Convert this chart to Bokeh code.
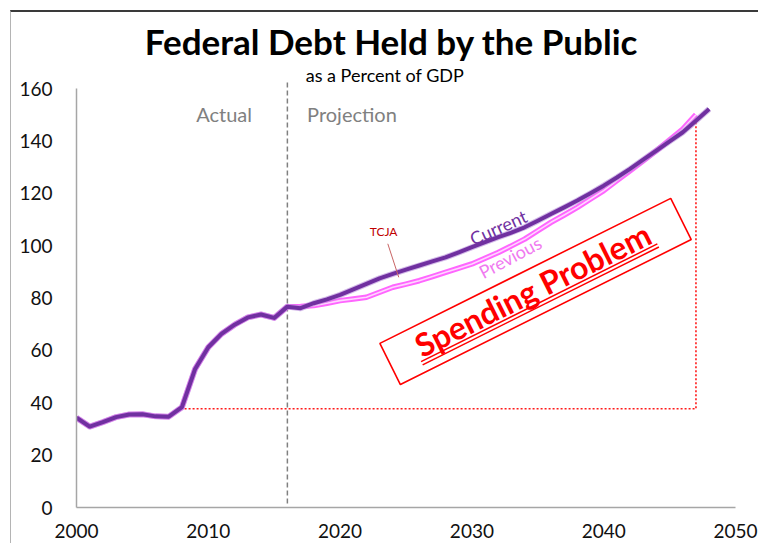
import math
from bokeh.plotting import figure
from bokeh.models import Range1d, FixedTicker, Label
from bokeh.embed import file_html
from bokeh.resources import INLINE

# ---------------- data ----------------
hist_years = list(range(2000, 2017))
hist_values = [34.3, 30.9, 32.6, 34.5, 35.5, 35.6, 34.8, 34.7, 38.3, 52.9,
               61.2, 66.3, 69.8, 72.6, 73.7, 72.4, 76.7]

current_years = list(range(2016, 2049))
current_values = [76.7, 76.1, 78.0, 79.5, 81.2, 83.3, 85.4, 87.5, 89.2, 90.8,
                  92.4, 94.0, 95.5, 97.4, 99.4, 101.3, 103.2, 105.0, 107.0, 109.5,
                  112.1, 114.6, 117.2, 120.0, 122.9, 126.0, 129.3, 132.8, 136.3, 139.8,
                  143.3, 147.7, 152.2]

previous_years = list(range(2016, 2048))
previous_values = [76.7, 76.8, 77.1, 78.0, 79.0, 79.6, 80.3, 82.2, 84.1, 85.3,
                   86.6, 88.2, 89.8, 91.4, 93.0, 95.2, 97.4, 99.9, 102.5, 105.7,
                   108.9, 111.7, 114.6, 117.8, 121.0, 124.8, 128.6, 132.4, 136.3, 140.4,
                   144.5, 150.0]

x_ticks = [2000, 2010, 2020, 2030, 2040, 2050]
y_ticks = [0, 20, 40, 60, 80, 100, 120, 140, 160]

projection_start = 2016
base_year, base_value = 2008.2, 37.7      # start of the "spending problem" gap
end_year, end_value = 2047, 148.4

title_text = "Federal Debt Held by the Public"
subtitle_text = "as a Percent of GDP"

# ---------------- layout ----------------
X0, X1 = 2000, 2050
Y0, Y_AXIS_TOP = 0, 160
FRAME_W = 659
PX_PER_UNIT_Y = 419 / 160
MIN_TOP = 4
FRAME_H = 495 - MIN_TOP
Y1 = FRAME_H / PX_PER_UNIT_Y            # frame extends above 160 to hold the titles

p = figure(width=748, height=533, output_backend="svg", toolbar_location=None,
           x_range=Range1d(X0, X1), y_range=Range1d(Y0, Y1),
           min_border_left=65, min_border_right=24, min_border_top=MIN_TOP,
           min_border_bottom=38)
p.outline_line_color = None
p.xgrid.visible = False
p.ygrid.visible = False
p.background_fill_color = "white"
p.border_fill_color = "white"
p.styles = {"border-top": "2px solid #3a3a3a", "border-left": "1px solid #b4b4b4",
            "margin-top": "10px", "margin-left": "10px"}

FONT = "Lato"
for ax, ticks, standoff in ((p.xaxis[0], x_ticks, 10), (p.yaxis[0], y_ticks, 18)):
    ax.ticker = FixedTicker(ticks=ticks)
    ax.axis_line_color = "#a6a6a6"
    ax.axis_line_width = 1.5
    ax.major_tick_line_color = None
    ax.minor_tick_line_color = None
    ax.major_label_text_font = FONT
    ax.major_label_text_font_size = "19px"
    ax.major_label_text_color = "#111111"
    ax.major_label_standoff = standoff
p.yaxis[0].bounds = (Y0, Y_AXIS_TOP)

px_x = FRAME_W / (X1 - X0)
px_y = PX_PER_UNIT_Y


def off(x, y, sx, sy):
    """shift a data point by screen pixels (sy positive = down)"""
    return x + sx / px_x, y - sy / px_y


# projection divider
p.line([projection_start, projection_start], [1.5, 162.3], line_color="#808080",
       line_dash="5 3", line_width=1.5)

# red dotted gap lines
p.line([base_year, end_year, end_year], [base_value, base_value, end_value],
       line_color="#ff1a1a", line_dash="2 2", line_width=1.6)

# previous (double pink line), history underneath
prev_x = hist_years + previous_years[1:]
prev_y = hist_values + previous_values[1:]
p.line(prev_x, prev_y, line_color="#ff66ff", line_width=5.5, line_join="round")
p.line(prev_x, prev_y, line_color="#ffd6ff", line_width=1.6, line_join="round")

# current
cur_x = hist_years + current_years[1:]
cur_y = hist_values + current_values[1:]
p.line(cur_x, cur_y, line_color="#b58ad8", line_width=6, line_alpha=0.6, line_join="round")
p.line(cur_x, cur_y, line_color="#7030a0", line_width=4, line_join="round")

# titles
p.add_layout(Label(x=2023.9, y=178.0, text=title_text, text_font=FONT, text_font_style="bold",
                   text_font_size="35px", text_align="center", text_baseline="middle",
                   text_color="#000000"))
p.add_layout(Label(x=2023.4, y=165.3, text=subtitle_text, text_font=FONT,
                   text_font_size="18px", text_align="center", text_baseline="middle",
                   text_color="#000000"))

# Actual / Projection
p.add_layout(Label(x=2011.2, y=150.3, text="Actual", text_font=FONT, text_font_size="20px",
                   text_align="center", text_baseline="middle", text_color="#808080"))
p.add_layout(Label(x=2020.9, y=150.3, text="Projection", text_font=FONT, text_font_size="20px",
                   text_align="center", text_baseline="middle", text_color="#808080"))

# series labels
p.add_layout(Label(x=2032.0, y=107.0, text="Current", text_font=FONT, text_font_size="18px",
                   angle=math.radians(24), text_align="center", text_baseline="middle",
                   text_color="#7030a0"))
p.add_layout(Label(x=2032.9, y=95.6, text="Previous", text_font=FONT, text_font_size="18px",
                   angle=math.radians(28), text_align="center", text_baseline="middle",
                   text_color="#f07af0"))

# TCJA
p.add_layout(Label(x=2023.3, y=105.4, text="TCJA", text_font=FONT, text_font_size="12px",
                   text_align="center", text_baseline="middle", text_color="#c00000"))
p.line([2023.62, 2024.45], [100.7, 87.9], line_color="#c86464", line_width=1)

# Spending Problem box
theta = math.radians(26.5)
p.rect(x=[2034.83], y=[82.5], width=325, height=46, width_units="screen",
       height_units="screen", angle=theta, fill_color=None, line_color="#ff0000",
       line_width=1.6)
tx, ty = 2034.6, 83.3
p.add_layout(Label(x=tx, y=ty, text="Spending Problem", text_font=FONT, text_font_style="bold",
                   text_font_size="32px", angle=theta, text_align="center",
                   text_baseline="middle", text_color="#ff0000"))
ux, uy = math.cos(theta), -math.sin(theta)     # along text (screen, y down)
nx, ny = math.sin(theta), math.cos(theta)      # below text
half = 132
for d in (15, 18.5):
    a = off(tx, ty, -half * ux + d * nx, -half * uy + d * ny)
    b = off(tx, ty, half * ux + d * nx, half * uy + d * ny)
    p.line([a[0], b[0]], [a[1], b[1]], line_color="#ff0000", line_width=1.5)

open("out.html", "w").write(file_html(p, INLINE))
